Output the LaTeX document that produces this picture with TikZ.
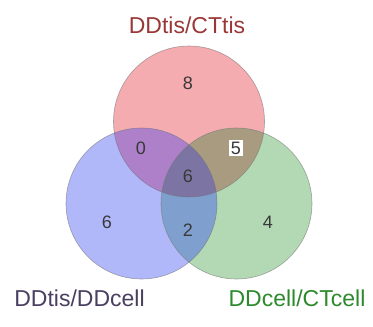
\documentclass[tikz,border=0pt]{standalone}
\usepackage{fontspec}
\setmainfont{Liberation Sans}
\usetikzlibrary{positioning}
\definecolor{tispink}{HTML}{F5ACB0}
\definecolor{ddblue}{HTML}{B1B8FA}
\definecolor{cellgreen}{HTML}{B2D8B4}
\definecolor{pinkblue}{HTML}{AD80C9}
\definecolor{pinkgreen}{HTML}{A99B80}
\definecolor{bluegreen}{HTML}{7FA0CF}
\definecolor{allthree}{HTML}{7C74A3}
\definecolor{numgray}{HTML}{383838}
\definecolor{tisred}{HTML}{9A3838}
\definecolor{ddpurple}{HTML}{4A3F60}
\definecolor{cellgreentext}{HTML}{2C8A2C}

\begin{document}
\begin{tikzpicture}[
  x=1pt, y=-1pt,
  node distance=10pt,
  set/.style={circle, minimum size=151pt, inner sep=0pt,
    draw=black!55, draw opacity=.6, line width=.6pt},
  num/.style={font=\fontsize{18}{18}\selectfont, text=numgray, inner sep=1.5pt},
  lab/.style={font=\fontsize{23}{23}\selectfont, inner sep=0pt}
]
\useasboundingbox (0,0) rectangle (373,327);
\coordinate (t) at (189,121.5);
\coordinate (l) at (141.5,203.5);
\coordinate (r) at (236.5,203.5);

% single sets
\fill[tispink] (t) circle (75.5pt);
\fill[ddblue] (l) circle (75.5pt);
\fill[cellgreen] (r) circle (75.5pt);

% overlaps
\begin{scope}
  \clip (t) circle (75.5pt);
  \fill[pinkblue] (l) circle (75.5pt);
  \fill[pinkgreen] (r) circle (75.5pt);
\end{scope}
\begin{scope}
  \clip (l) circle (75.5pt);
  \fill[bluegreen] (r) circle (75.5pt);
\end{scope}
\begin{scope}
  \clip (t) circle (75.5pt);
  \clip (l) circle (75.5pt);
  \fill[allthree] (r) circle (75.5pt);
\end{scope}

% outlines
\node[set] (tis) at (t) {};
\node[set] (ddc) at (l) {};
\node[set] (cel) at (r) {};

% counts
\node[num] (n8) at (188,83) {8};
\node[num] (n0) at (141,148) {0};
\node[num, fill=white] (n5) at (236,148) {5};
\node[num] (n6c) at (188,176) {6};
\node[num] (n6) at (107,222) {6};
\node[num] (n2) at (188,230) {2};
\node[num] (n4) at (268,222) {4};

% set names
\node[lab, text=tisred, above=12pt of tis, xshift=-2pt] (ltis) {DDtis/CTtis};
\node[lab, text=ddpurple, below=10pt of ddc, xshift=-62pt] (lddc) {DDtis/DDcell};
\node[lab, text=cellgreentext, below=10pt of cel, xshift=60.5pt] (lcel) {DDcell/CTcell};
\end{tikzpicture}
\end{document}
